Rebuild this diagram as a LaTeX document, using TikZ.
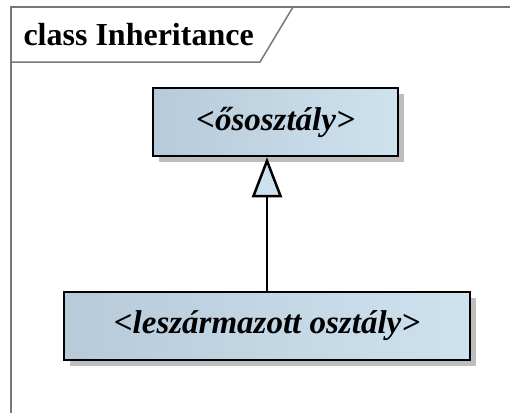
\documentclass[tikz,border=0pt]{standalone}
\usepackage{fontspec}
\setmainfont{Liberation Serif}
\usetikzlibrary{arrows.meta,shadows}
\definecolor{framegray}{RGB}{120,120,120}
\definecolor{clsleft}{RGB}{182,202,218}
\definecolor{clsright}{RGB}{206,226,238}
\definecolor{tipfill}{RGB}{206,226,238}
\definecolor{shadowgray}{RGB}{190,190,190}
\tikzset{
  frameline/.style={draw=framegray, line width=1.5pt},
  classbox/.style={draw=black, line width=2.5pt, left color=clsleft, right color=clsright,
    minimum height=68pt, inner sep=0pt, font=\fontsize{33}{36}\selectfont\bfseries\itshape,
    drop shadow={shadow xshift=6pt, shadow yshift=-6pt, fill=shadowgray, opacity=1}},
  generalization/.style={line width=2.5pt, -{Triangle[open, length=40pt, width=30pt, fill=tipfill, line width=2.5pt]}},
}
\begin{document}
\begin{tikzpicture}[x=1pt, y=-1pt]
  \useasboundingbox (0,0) rectangle (510,413);
  % diagram frame
  \draw[frameline] (510,7) -- (11,7) -- (11,413);
  % frame header tab
  \draw[frameline] (11,62) -- (260,62) -- (293,7);
  \node[anchor=west, font=\fontsize{32}{34}\selectfont\bfseries] (title) at (20,35) {class Inheritance};
  % classes
  \node[classbox, minimum width=245pt] (base) at (275.5,122) {<ősosztály>};
  \node[classbox, minimum width=406pt] (derived) at (267,326) {<leszármazott osztály>};
  % inheritance
  \draw[generalization] (derived.north) -- (derived.north |- base.south);
\end{tikzpicture}
\end{document}
